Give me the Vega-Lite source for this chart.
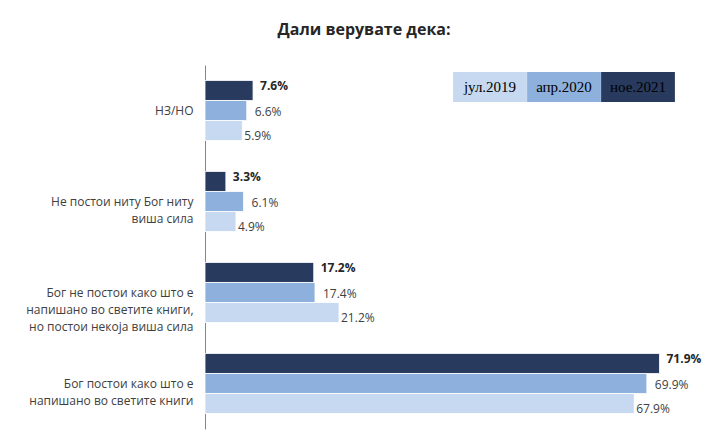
{
  "$schema": "https://vega.github.io/schema/vega-lite/v6.json",
  "autosize": {"type": "none"},
  "padding": {"left": 205, "top": 65, "right": 12, "bottom": 5},
  "width": 500,
  "height": 364,
  "background": "white",
  "title": {"text": "Дали верувате дека:", "font": "Open Sans", "fontSize": 16, "fontWeight": "bold", "color": "#262626", "anchor": "middle", "dx": -91, "offset": 19},
  "data": {"values": [
    {"cat": "НЗ/НО", "series": "ное.2021", "value": 7.6},
    {"cat": "НЗ/НО", "series": "апр.2020", "value": 6.6},
    {"cat": "НЗ/НО", "series": "јул.2019", "value": 5.9},
    {"cat": "Не постои ниту Бог ниту|виша сила", "series": "ное.2021", "value": 3.3},
    {"cat": "Не постои ниту Бог ниту|виша сила", "series": "апр.2020", "value": 6.1},
    {"cat": "Не постои ниту Бог ниту|виша сила", "series": "јул.2019", "value": 4.9},
    {"cat": "Бог не постои како што е|напишано во светите книги,|но постои некоја виша сила", "series": "ное.2021", "value": 17.2},
    {"cat": "Бог не постои како што е|напишано во светите книги,|но постои некоја виша сила", "series": "апр.2020", "value": 17.4},
    {"cat": "Бог не постои како што е|напишано во светите книги,|но постои некоја виша сила", "series": "јул.2019", "value": 21.2},
    {"cat": "Бог постои како што е|напишано во светите книги", "series": "ное.2021", "value": 71.9},
    {"cat": "Бог постои како што е|напишано во светите книги", "series": "апр.2020", "value": 69.9},
    {"cat": "Бог постои како што е|напишано во светите книги", "series": "јул.2019", "value": 67.9}
  ]},
  "transform": [{"calculate": "format(datum.value, '.1f') + '%'", "as": "lbl"}],
  "encoding": {
    "y": {
      "field": "cat", "type": "nominal",
      "sort": ["НЗ/НО", "Не постои ниту Бог ниту|виша сила", "Бог не постои како што е|напишано во светите книги,|но постои некоја виша сила", "Бог постои како што е|напишано во светите книги"],
      "scale": {"paddingInner": 0.34, "paddingOuter": 0.17},
      "axis": {"title": null, "ticks": false, "tickSize": 0, "labelPadding": 12, "labelFont": "Open Sans", "labelFontSize": 12, "labelColor": "#404040", "labelLineHeight": 17, "labelAlign": "right", "labelExpr": "split(datum.label, '|')", "domainColor": "#868686", "domainWidth": 1, "grid": false}
    },
    "yOffset": {"field": "series", "type": "nominal", "sort": ["ное.2021", "апр.2020", "јул.2019"], "scale": {"paddingInner": 0, "paddingOuter": 0}},
    "x": {"field": "value", "type": "quantitative", "scale": {"domain": [0, 79.1], "nice": false}, "axis": null}
  },
  "layer": [
    {
      "mark": {"type": "bar", "stroke": "white", "strokeWidth": 0.8},
      "encoding": {
        "color": {
          "field": "series", "type": "nominal",
          "scale": {"domain": ["јул.2019", "апр.2020", "ное.2021"], "range": ["#c6d9f0", "#8eb0dc", "#283a5e"]},
          "legend": {
            "orient": "none", "legendX": 255, "legendY": -8, "direction": "horizontal", "columns": 3, "columnPadding": 0,
            "title": null, "padding": 0,
            "symbolType": "M-1.23,-0.5H1.23V0.5H-1.23Z", "symbolSize": 3600, "symbolStrokeWidth": 0,
            "labelAlign": "center", "labelOffset": -30, "labelFont": "Liberation Serif", "labelFontSize": 15,
            "encode": {
              "symbols": {"opacity": {"value": 1}},
              "labels": {"fill": {"condition": {"test": "datum.label == 'ное.2021'", "value": "#f0f0f0"}, "value": "#333333"}}
            }
          }
        }
      }
    },
    {
      "transform": [{"filter": "datum.series == 'ное.2021'"}],
      "mark": {"type": "text", "align": "left", "baseline": "middle", "dx": 7, "dy": -4, "font": "Open Sans", "fontSize": 12, "fontWeight": "bold", "color": "#262626"},
      "encoding": {"text": {"field": "lbl"}}
    },
    {
      "transform": [{"filter": "datum.series == 'апр.2020'"}],
      "mark": {"type": "text", "align": "left", "baseline": "middle", "dx": 8, "dy": 1.5, "font": "Open Sans", "fontSize": 12, "color": "#404040"},
      "encoding": {"text": {"field": "lbl"}}
    },
    {
      "transform": [{"filter": "datum.series == 'јул.2019'"}],
      "mark": {"type": "text", "align": "left", "baseline": "middle", "dx": 2, "dy": 5.5, "font": "Open Sans", "fontSize": 12, "color": "#404040"},
      "encoding": {"text": {"field": "lbl"}}
    }
  ],
  "config": {"view": {"stroke": null}}
}
